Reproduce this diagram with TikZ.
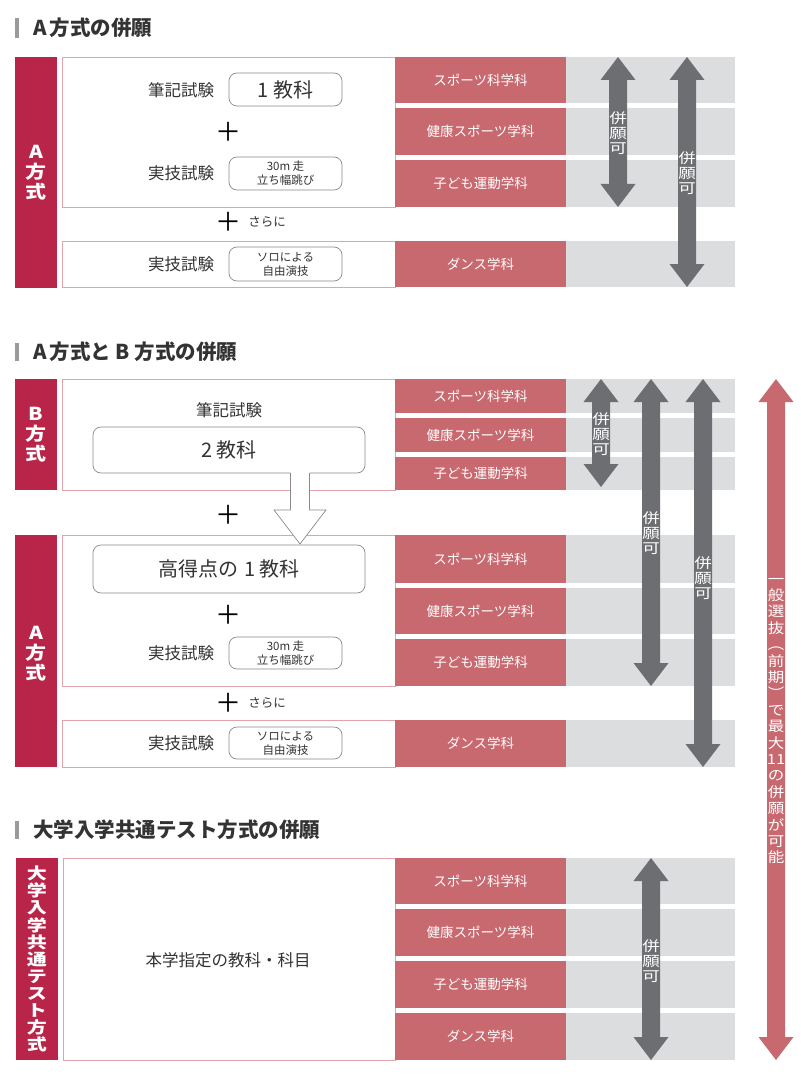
\documentclass[tikz,border=0pt]{standalone}
\usepackage{fontspec}
\setmainfont{Noto Sans CJK JP}
\definecolor{barred}{HTML}{B82549}
\definecolor{cellred}{HTML}{C8686F}
\definecolor{cellgray}{HTML}{DCDDDE}
\definecolor{boxline}{HTML}{E2A3AB}
\definecolor{arrgray}{HTML}{6D6E72}
\definecolor{rgray}{HTML}{8A8A8A}
\definecolor{txtc}{HTML}{333333}
\definecolor{headbar}{HTML}{9A9A9A}
\newcommand\deptrow[4]{%
  \path[fill=cellgray] (566,#2) rectangle (735,#3);
  \path[fill=cellred] (395,#2) rectangle (566,#3);
  \node[dept] (#1) at (480.5,{(#2+#3)/2}) {#4};}
\newcommand\dblarr[4]{%
  \fill[#1] (#2,#3) -- (#2+17.5,#3+23) -- (#2+9,#3+23) -- (#2+9,#4-23) -- (#2+17.5,#4-23)
     -- (#2,#4) -- (#2-17.5,#4-23) -- (#2-9,#4-23) -- (#2-9,#3+23) -- (#2-17.5,#3+23) -- cycle;}
\newcommand\vcol[2]{\scalebox{1}[#1]{\vbox{\lineskiplimit=-100pt\lineskip=0pt\def\\{\cr}\halign{\hfil##\hfil\cr#2\crcr}}}}
\begin{document}
\begin{tikzpicture}[x=1pt,y=-1pt,
  hdr/.style={anchor=west,inner sep=0pt,text=txtc,font=\bfseries\fontsize{20.5}{20.5}\selectfont},
  bartxt/.style={inner sep=0pt,text=white,font=\bfseries\fontsize{21}{23.5}\selectfont},
  wbox/.style={draw=boxline,line width=0.9pt,fill=white},
  rbox/.style={draw=rgray,line width=0.7pt,rounded corners=8pt,fill=white},
  lbl/.style={inner sep=0pt,text=txtc,font=\fontsize{16.5}{16.5}\selectfont},
  small/.style={inner sep=0pt,text=txtc,align=center,font=\fontsize{11.5}{14}\selectfont},
  big/.style={inner sep=0pt,text=txtc,font=\fontsize{20}{20}\selectfont},
  plus/.style={inner sep=0pt,text=black,font=\fontsize{26}{26}\selectfont},
  sarani/.style={inner sep=0pt,text=txtc,font=\fontsize{12.5}{12.5}\selectfont},
  dept/.style={inner sep=0pt,text=white,font=\fontsize{13.5}{13.5}\selectfont},
  arrlbl/.style={inner sep=0pt,text=white,font=\fontsize{17.5}{18.5}\selectfont},
  longlbl/.style={inner sep=0pt,text=white,font=\fontsize{16.5}{19.3}\selectfont}]
\useasboundingbox[fill=white] (0,0) rectangle (800,1078);

% ---------- Section 1 ----------
\fill[headbar] (15,18) rectangle (19,38);
\node[hdr] (h1) at (33,28) {A\hspace{3pt}方式の併願};
\path[fill=barred] (15,57) rectangle (57,288);
\node[bartxt] (b1) at (36,173) {\vcol{0.85}{A\\方\\式}};
\draw[wbox] (62,57) rectangle (395,207);
\draw[wbox] (62,241) rectangle (395,287);
\node[lbl] (s1w1) at (181,90) {筆記試験};
\draw[rbox] (229,73) rectangle (342,106);
\node[big] (s1k) at (285.5,89.5) {1\hspace{4pt}教科};
\node[plus] (s1p1) at (228.5,132) {＋};
\node[lbl] (s1j1) at (181,173) {実技試験};
\draw[rbox] (229,157) rectangle (342,190);
\node[small] (s1r1) at (285.5,173.5) {30m 走\\立ち幅跳び};
\node[plus] (s1p2) at (228.5,222) {＋};
\node[sarani] (s1s) at (267,222) {さらに};
\node[lbl] (s1j2) at (181,264) {実技試験};
\draw[rbox] (229,247) rectangle (342,281);
\node[small] (s1r2) at (285.5,264) {ソロによる\\自由演技};
\deptrow{d11}{57}{103}{スポーツ科学科}
\deptrow{d12}{108}{155}{健康スポーツ学科}
\deptrow{d13}{160}{207}{子ども運動学科}
\deptrow{d14}{241}{287}{ダンス学科}
\dblarr{arrgray}{618}{57}{207}
\node[arrlbl] (a11) at (618,133) {\vcol{0.8}{併\\願\\可}};
\dblarr{arrgray}{687}{57}{287}
\node[arrlbl] (a12) at (687,173) {\vcol{0.8}{併\\願\\可}};

% ---------- Section 2 ----------
\fill[headbar] (15,343) rectangle (19,361);
\node[hdr] (h2) at (33,352) {A\hspace{3pt}方式と B 方式の併願};
\path[fill=barred] (15,379) rectangle (57,490);
\node[bartxt] (b2) at (36,435) {\vcol{0.85}{B\\方\\式}};
\draw[wbox] (62,379) rectangle (395,490);
\node[lbl] (s2w) at (229,410) {筆記試験};
\draw[rbox] (93,427) rectangle (365,473);
\node[big] (s2k) at (229,450) {2\hspace{4pt}教科};
\node[plus] (s2p0) at (228.5,515) {＋};
\path[fill=barred] (15,535) rectangle (57,767);
\node[bartxt] (b3) at (36,654) {\vcol{0.85}{A\\方\\式}};
\draw[wbox] (62,535) rectangle (395,686);
\draw[wbox] (62,720) rectangle (395,767);
% hollow arrow
\fill[white] (290.5,472) -- (290.5,510) -- (274,510) -- (300,544) -- (326,510) -- (309.5,510) -- (309.5,472) -- cycle;
\draw[rgray,line width=0.7pt] (290.5,473) -- (290.5,510) -- (274,510) -- (300,544) -- (326,510) -- (309.5,510) -- (309.5,473);
\draw[rbox] (93,545) rectangle (365,593);
\node[big] (s2h) at (229,569) {高得点の\hspace{6pt}1\hspace{4pt}教科};
\node[plus] (s2p1) at (228.5,615) {＋};
\node[lbl] (s2j1) at (181,653) {実技試験};
\draw[rbox] (229,637) rectangle (342,669);
\node[small] (s2r1) at (285.5,653.5) {30m 走\\立ち幅跳び};
\node[plus] (s2p2) at (228.5,703) {＋};
\node[sarani] (s2s) at (267,703) {さらに};
\node[lbl] (s2j2) at (181,743) {実技試験};
\draw[rbox] (229,727) rectangle (342,759);
\node[small] (s2r2) at (285.5,743) {ソロによる\\自由演技};
\deptrow{d21}{379}{413}{スポーツ科学科}
\deptrow{d22}{418}{452}{健康スポーツ学科}
\deptrow{d23}{457}{490}{子ども運動学科}
\deptrow{d24}{535}{583}{スポーツ科学科}
\deptrow{d25}{588}{634}{健康スポーツ学科}
\deptrow{d26}{639}{686}{子ども運動学科}
\deptrow{d27}{720}{767}{ダンス学科}
\dblarr{arrgray}{601}{379}{487}
\node[arrlbl] (a21) at (601,434) {\vcol{0.8}{併\\願\\可}};
\dblarr{arrgray}{651}{379}{686}
\node[arrlbl] (a22) at (651,533) {\vcol{0.8}{併\\願\\可}};
\dblarr{arrgray}{703}{379}{767}
\node[arrlbl] (a23) at (703,578) {\vcol{0.8}{併\\願\\可}};
\dblarr{cellred}{776}{379}{1060}
\node[longlbl] (along) at (776,721) {\vcol{0.85}{一\\般\\選\\抜\\︵\\前\\期\\︶\\で\\最\\大\\11\\の\\併\\願\\が\\可\\能}};

% ---------- Section 3 ----------
\fill[headbar] (15,821) rectangle (19,839);
\node[hdr] (h3) at (33,830) {大学入学共通テスト方式の併願};
\path[fill=barred] (16,858) rectangle (58,1060);
\node[bartxt,font=\bfseries\fontsize{20}{21.3}\selectfont] (b4) at (37,959) {\vcol{0.8}{大\\学\\入\\学\\共\\通\\テ\\ス\\ト\\方\\式}};
\draw[wbox] (63,858) rectangle (395,1060);
\node[lbl] (s3t) at (228,960) {本学指定の教科・科目};
\deptrow{d31}{858}{904}{スポーツ科学科}
\deptrow{d32}{909}{956}{健康スポーツ学科}
\deptrow{d33}{961}{1008}{子ども運動学科}
\deptrow{d34}{1013}{1060}{ダンス学科}
\dblarr{arrgray}{651}{858}{1060}
\node[arrlbl] (a31) at (651,961) {\vcol{0.8}{併\\願\\可}};
\end{tikzpicture}
\end{document}
